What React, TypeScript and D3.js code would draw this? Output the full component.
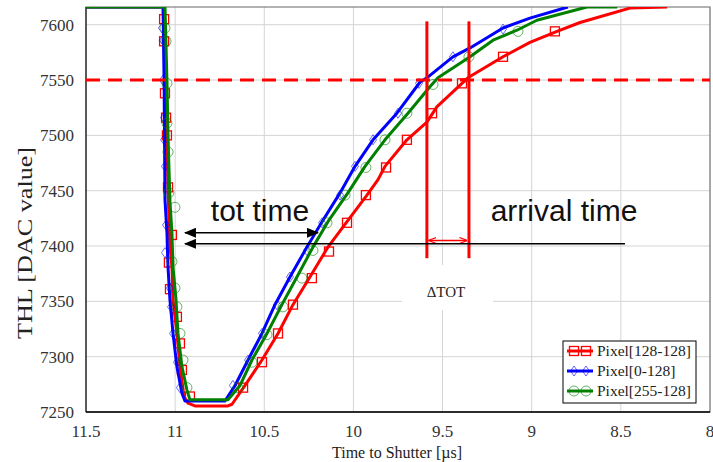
import React from 'react';
import * as d3 from 'd3';

const W = 713;
const H = 462;
const M = { left: 86, right: 710, top: 7, bottom: 412 };

const xTicks = [11.5, 11, 10.5, 10, 9.5, 9, 8.5, 8];
const yTicks = [7250, 7300, 7350, 7400, 7450, 7500, 7550, 7600];
const seriesNames = ['Pixel[128-128]', 'Pixel[0-128]', 'Pixel[255-128]'];

// [time to shutter (us), THL]
const redLine = [
  [11.5, 7616], [11.062, 7616], [11.051, 7550], [11.046, 7500], [11.04, 7450], [11.029, 7400],
  [11.018, 7381], [11.012, 7351], [10.99, 7321], [10.973, 7291], [10.95, 7264], [10.928, 7258],
  [10.889, 7255.5], [10.704, 7255.5], [10.681, 7257], [10.608, 7274], [10.513, 7297], [10.423, 7321],
  [10.339, 7347], [10.244, 7372], [10.143, 7399], [10.036, 7422], [9.924, 7446], [9.862, 7460],
  [9.823, 7472], [9.7, 7496], [9.588, 7512], [9.531, 7526], [9.358, 7552], [9.161, 7571],
  [9.01, 7584], [8.858, 7594], [8.729, 7602], [8.449, 7615], [8.24, 7616]
];
const blueLine = [
  [11.5, 7616], [11.068, 7616], [11.062, 7550], [11.057, 7442], [11.046, 7412], [11.04, 7381],
  [11.029, 7351], [11.012, 7321], [10.99, 7291], [10.962, 7267], [10.945, 7260], [10.72, 7260],
  [10.664, 7274], [10.591, 7297], [10.513, 7321], [10.44, 7347], [10.356, 7372], [10.261, 7399],
  [10.176, 7422], [10.075, 7448], [9.991, 7472], [9.89, 7496], [9.756, 7520], [9.627, 7548],
  [9.588, 7552], [9.442, 7571], [9.346, 7579], [9.161, 7597], [9.01, 7606], [8.797, 7616]
];
const greenLine = [
  [11.5, 7616], [11.057, 7616], [11.046, 7550], [11.04, 7500], [11.029, 7440], [11.018, 7412],
  [11.012, 7381], [10.995, 7351], [10.984, 7321], [10.962, 7291], [10.934, 7270], [10.917, 7261],
  [10.704, 7261], [10.636, 7274], [10.569, 7297], [10.485, 7321], [10.401, 7347], [10.317, 7372],
  [10.227, 7399], [10.143, 7422], [10.031, 7448], [9.935, 7472], [9.823, 7496], [9.694, 7520],
  [9.571, 7544], [9.526, 7552], [9.346, 7571], [9.217, 7586], [9.083, 7595], [8.971, 7604],
  [8.69, 7616], [8.52, 7616]
];

const redMarks = [
  [11.062, 7605], [11.062, 7585], [11.057, 7538], [11.051, 7516], [11.046, 7500], [11.04, 7453],
  [11.018, 7410], [11.035, 7385], [11.029, 7361], [10.99, 7336], [10.973, 7312], [10.962, 7288],
  [10.917, 7264], [10.619, 7272], [10.513, 7295], [10.423, 7321], [10.339, 7347], [10.233, 7371],
  [10.137, 7395], [10.036, 7421], [9.93, 7446], [9.817, 7471], [9.7, 7496], [9.559, 7520],
  [9.391, 7547], [9.161, 7571], [8.87, 7594]
];
const blueMarks = [
  [11.074, 7597], [11.068, 7586], [11.068, 7550], [11.062, 7516], [11.062, 7496], [11.057, 7472],
  [11.051, 7419], [11.057, 7394], [11.029, 7362], [11.023, 7345], [11.012, 7321], [10.99, 7295],
  [10.973, 7272], [10.676, 7274], [10.591, 7297], [10.513, 7321], [10.429, 7347], [10.356, 7372],
  [10.261, 7396], [10.176, 7421], [10.075, 7446], [9.991, 7472], [9.89, 7496], [9.75, 7520],
  [9.632, 7547], [9.442, 7571], [9.161, 7596]
];
const greenMarks = [
  [11.057, 7597], [11.051, 7585], [11.046, 7547], [11.046, 7511], [11.04, 7485], [11.035, 7448],
  [11.001, 7435], [11.018, 7386], [11.001, 7362], [10.99, 7345], [10.973, 7321], [10.956, 7297],
  [10.934, 7272], [10.648, 7272], [10.569, 7295], [10.485, 7320], [10.395, 7345], [10.289, 7371],
  [10.227, 7396], [10.148, 7421], [10.047, 7446], [9.93, 7471], [9.823, 7496], [9.7, 7520],
  [9.554, 7546], [9.352, 7571], [9.077, 7594]
];

// annotation values
const threshold = 7550;
const deltaX = [9.588, 9.352];
const deltaTop = 7603;
const deltaBottom = 7389;
const deltaArrowY = 7405;
const totArrow = { x0: 10.945, x1: 10.199, y: 7412 };
const arrivalLine = { x0: 10.945, x1: 8.477, y: 7402 };

const x = d3.scaleLinear().domain([11.5, 8]).range([M.left, M.right]);
const y = d3.scaleLinear().domain([7250, 7616]).range([M.bottom, M.top]);
const line = d3.line<number[]>().x(d => x(d[0])).y(d => y(d[1]));

const serif = '"Liberation Serif", "DejaVu Serif", serif';
const sans = '"Liberation Sans", Arial, sans-serif';

const RED = '#ff0000';
const BLUE = '#0000ff';
const GREEN = '#008000';

const Square = ({ cx, cy, s = 9 }) => (
  <rect x={cx - s / 2} y={cy - s / 2} width={s} height={s} fill="none" stroke={RED} strokeWidth={1.3} />
);
const Diamond = ({ cx, cy }) => (
  <path d={`M${cx},${cy - 5}L${cx + 3.5},${cy}L${cx},${cy + 5}L${cx - 3.5},${cy}Z`} fill="none" stroke={BLUE} strokeWidth={1} strokeOpacity={0.6} />
);
const Circle = ({ cx, cy }) => (
  <circle cx={cx} cy={cy} r={5} fill="none" stroke={GREEN} strokeWidth={1} strokeOpacity={0.6} />
);

export default function App() {
  const legendRows = [
    { name: seriesNames[0], color: RED, M: Square },
    { name: seriesNames[1], color: BLUE, M: Diamond },
    { name: seriesNames[2], color: GREEN, M: Circle }
  ];
  return (
    <>
      <style>{`body{margin:0}`}</style>
      <svg width={W} height={H} style={{ display: 'block', background: '#fff' }}>
        <defs>
          <clipPath id="plot">
            <rect x={M.left} y={M.top} width={M.right - M.left} height={M.bottom - M.top} />
          </clipPath>
          <marker id="blk" viewBox="0 0 12 10" refX="11" refY="5" markerWidth="12" markerHeight="10" markerUnits="userSpaceOnUse" orient="auto-start-reverse">
            <path d="M0,0L12,5L0,10Z" fill="#000" />
          </marker>
          <marker id="red" viewBox="0 0 8 6" refX="7.5" refY="3" markerWidth="8" markerHeight="6" markerUnits="userSpaceOnUse" orient="auto-start-reverse">
            <path d="M0,0L8,3L0,6" fill="none" stroke={RED} strokeWidth={1.2} />
          </marker>
        </defs>

        {/* grid */}
        {yTicks.slice(1).map(t => (
          <line key={'gy' + t} x1={M.left} x2={M.right} y1={y(t)} y2={y(t)} stroke="#d4d4d4" />
        ))}
        {xTicks.slice(1).map(t => (
          <line key={'gx' + t} x1={x(t)} x2={x(t)} y1={M.top} y2={M.bottom} stroke="#d4d4d4" />
        ))}
        <rect x={M.left} y={M.top} width={M.right - M.left} height={M.bottom - M.top} fill="none" stroke="#666" />
        <line x1={M.left} x2={M.left} y1={M.top} y2={M.bottom} stroke="#000" />
        <line x1={M.left} x2={M.right} y1={M.bottom} y2={M.bottom} stroke="#000" strokeWidth={1.5} />

        {/* white box behind delta label */}
        <rect x={402} y={265} width={91} height={45} fill="#fff" />

        {/* series */}
        <g clipPath="url(#plot)">
          <path d={line(redLine)} fill="none" stroke={RED} strokeWidth={3} strokeLinejoin="round" />
          {redMarks.map((d, i) => <Square key={'rm' + i} cx={x(d[0])} cy={y(d[1])} />)}
          <path d={line(blueLine)} fill="none" stroke={BLUE} strokeWidth={3} strokeLinejoin="round" />
          {blueMarks.map((d, i) => <Diamond key={'bm' + i} cx={x(d[0])} cy={y(d[1])} />)}
          <path d={line(greenLine)} fill="none" stroke={GREEN} strokeWidth={3} strokeLinejoin="round" />
          {greenMarks.map((d, i) => <Circle key={'gm' + i} cx={x(d[0])} cy={y(d[1])} />)}
        </g>

        {/* annotations */}
        <line x1={M.left} x2={M.right} y1={y(threshold)} y2={y(threshold)} stroke={RED} strokeWidth={3} strokeDasharray="14,8" />
        {deltaX.map(v => (
          <line key={'dv' + v} x1={x(v)} x2={x(v)} y1={y(deltaTop)} y2={y(deltaBottom)} stroke={RED} strokeWidth={3} />
        ))}
        <line x1={x(deltaX[0]) + 2} x2={x(deltaX[1]) - 2} y1={y(deltaArrowY)} y2={y(deltaArrowY)} stroke={RED} strokeWidth={1.5}
          markerStart="url(#red)" markerEnd="url(#red)" />
        <line x1={x(totArrow.x0)} x2={x(totArrow.x1)} y1={y(totArrow.y)} y2={y(totArrow.y)} stroke="#000" strokeWidth={1.5}
          markerStart="url(#blk)" markerEnd="url(#blk)" />
        <line x1={x(arrivalLine.x0)} x2={x(arrivalLine.x1)} y1={y(arrivalLine.y)} y2={y(arrivalLine.y)} stroke="#000" strokeWidth={1.5}
          markerStart="url(#blk)" />
        <text x={260} y={221} textAnchor="middle" fontFamily={sans} fontSize={30} fill="#111">tot time</text>
        <text x={564} y={221} textAnchor="middle" fontFamily={sans} fontSize={30} fill="#111">arrival time</text>
        <text x={446} y={297} textAnchor="middle" fontFamily={serif} fontSize={15} fill="#222">ΔTOT</text>

        {/* axes labels */}
        {yTicks.map(t => (
          <text key={'yl' + t} x={74} y={y(t) + 6} textAnchor="end" fontFamily={serif} fontSize={17} fill="#333">{t}</text>
        ))}
        {xTicks.map(t => (
          <text key={'xl' + t} x={x(t)} y={437} textAnchor="middle" fontFamily={serif} fontSize={17} fill="#333">{String(t)}</text>
        ))}
        <text x={397} y={458} textAnchor="middle" fontFamily={serif} fontSize={16} fill="#222">Time to Shutter [µs]</text>
        <text transform="translate(32,243) rotate(-90)" textAnchor="middle" fontFamily={serif} fontSize={20} fill="#222"
          textLength={192} lengthAdjust="spacingAndGlyphs">THL [DAC value]</text>

        {/* legend */}
        <rect x={563} y={341} width={133} height={62} fill="#fff" stroke="#000" />
        {legendRows.map((r, i) => {
          const ly = 351 + i * 20;
          const Mk = r.M;
          return (
            <g key={r.name}>
              <line x1={567} x2={593} y1={ly} y2={ly} stroke={r.color} strokeWidth={3} />
              <Mk cx={574} cy={ly} />
              <Mk cx={586} cy={ly} />
              <text x={597} y={ly + 5} fontFamily={serif} fontSize={15.5} fill="#222">{r.name}</text>
            </g>
          );
        })}
      </svg>
    </>
  );
}
